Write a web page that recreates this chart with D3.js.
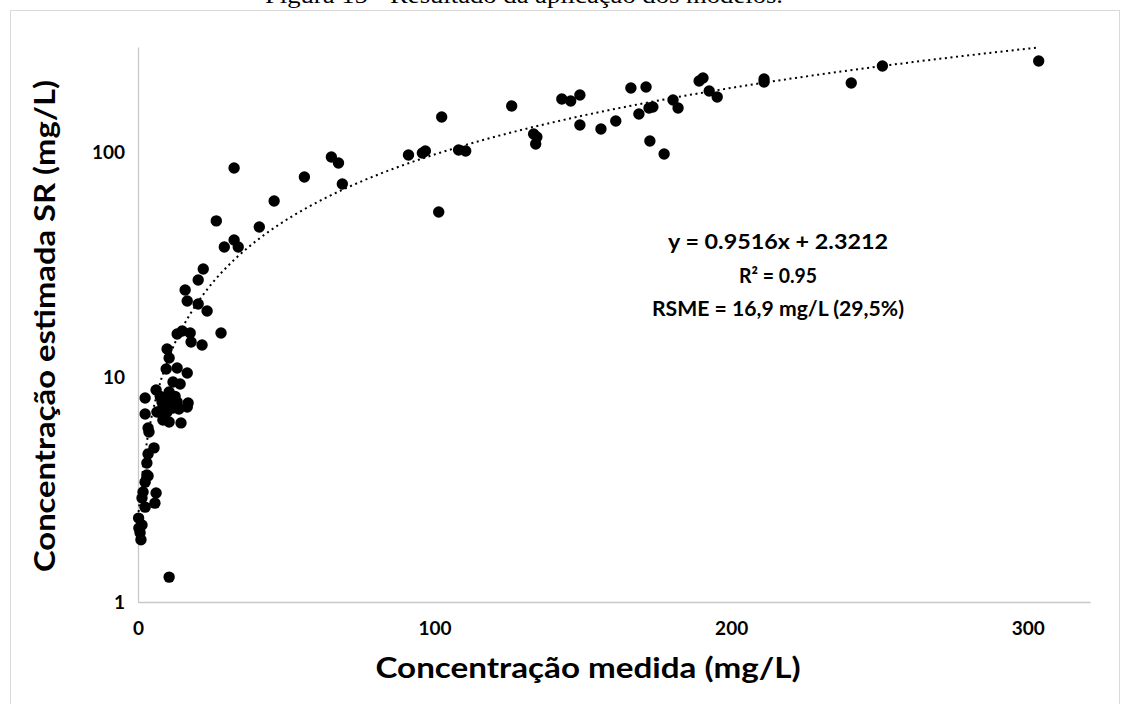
<!DOCTYPE html>
<html>
<head>
<meta charset="utf-8">
<script src="https://cdn.jsdelivr.net/npm/d3@7"></script>
<style>
  body { margin: 0; background: #fff; }
  svg { display: block; }
</style>
</head>
<body>
<div id="container"></div>
<script>
var xMeasured = [0.2, 1.35, 0.3, 0.7, 1.0, 10.5,
  2.4, 5.7, 6.1, 1.35, 1.7, 2.4, 3.0, 3.4, 3.0, 3.4, 5.4, 3.7, 3.4,
  8.4, 10.5, 14.5, 6.4, 2.4, 9.8, 8.4, 11.8, 16.6, 16.9, 8.1, 10.8, 13.2,
  10.5, 2.4, 6.1, 11.8, 14.2, 9.5, 13.2, 16.6, 10.5, 9.8,
  13.2, 14.9, 17.6, 17.9, 28.0, 21.6, 15.9, 16.6, 20.3, 23.3, 20.3, 22.0,
  26.4, 29.1, 32.4, 33.8, 32.4, 40.9, 45.9, 56.1, 65.2, 67.6, 68.9,
  91.2, 95.9, 96.9, 101.4, 102.4, 108.1, 110.5, 126.0, 133.4, 134.5, 134.1,
  142.9, 145.9, 149.0, 149.0, 156.1, 161.1, 166.2, 171.3, 168.9, 172.3, 173.6,
  172.6, 177.4, 180.4, 182.1, 189.2, 190.5, 192.6, 195.3, 211.1, 211.1,
  240.5, 251.0, 303.7,
  7.5, 12.5, 9.0, 13.8];

var yEstimated = [2.36, 2.20, 2.13, 2.03, 1.89, 1.29,
  2.64, 2.75, 3.05, 2.90, 3.08, 3.41, 3.67, 3.63, 4.15, 4.55, 4.84, 5.69, 5.93,
  6.44, 6.31, 6.25, 6.99, 6.85, 6.99, 7.36, 7.28, 7.36, 7.66, 7.74, 7.90, 7.74,
  8.58, 8.07, 8.76, 9.50, 9.31, 10.85, 10.96, 10.42, 12.15, 13.32,
  15.53, 16.01, 15.69, 14.30, 15.69, 13.88, 24.36, 21.77, 21.11, 19.65, 26.98, 30.2,
  49.4, 37.8, 40.6, 37.8, 84.9, 46.4, 60.6, 77.4, 95.0, 89.4, 72.1,
  97.0, 99.0, 101.0, 54.1, 143.1, 102.1, 101.0, 160.1, 120.2, 116.6, 108.5,
  172.0, 168.5, 179.2, 131.8, 126.6, 137.3, 192.5, 194.5, 147.5, 156.9, 158.5,
  111.9, 98.0, 170.2, 156.9, 206.9, 213.3, 186.7, 175.6, 211.1, 204.7,
  202.6, 241.1, 253.8,
  8.2, 8.2, 7.0, 7.2];

var xTicks = [0, 100, 200, 300];
var yTicks = [1, 10, 100];

// linear trend shown in the chart
var slope = 0.9516,
    intercept = 2.3212;

var annotation = ["y = 0.9516x + 2.3212", "R\u00b2 = 0.95", "RSME = 16,9 mg/L (29,5%)"];
var annotationWidth = [220, 78, 252];

var w = 1121,
    h = 704;

var svg = d3.select("div#container")
  .append("svg")
  .attr("width", w)
  .attr("height", h);

var font = "Lato, 'Open Sans', sans-serif";

// title (cut off at the top of the page, as in the original)
svg.append("text")
  .attr("x", 524)
  .attr("y", 3)
  .attr("text-anchor", "middle")
  .attr("font-family", "'Liberation Serif', 'Times New Roman', serif")
  .attr("font-size", 24)
  .attr("textLength", 518)
  .attr("lengthAdjust", "spacingAndGlyphs")
  .text("Figura 15 - Resultado da aplicação dos modelos.");

// chart frame
svg.append("rect")
  .attr("x", 10.5)
  .attr("y", 10.5)
  .attr("width", 1109)
  .attr("height", 720)
  .attr("fill", "none")
  .attr("stroke", "#d9d9d9")
  .attr("stroke-width", 1);

var x = d3.scaleLinear()
    .domain([0, 321])
    .range([138, 1090]);

var y = d3.scaleLog()
    .domain([1, 292.8])
    .range([602, 47]);

// axes
var xAxis = svg.append("g")
  .attr("transform", "translate(0,602)")
  .call(d3.axisBottom(x).tickValues(xTicks).tickSize(0).tickPadding(20).tickFormat(d3.format("d")));

var yAxis = svg.append("g")
  .attr("transform", "translate(138,0)")
  .call(d3.axisLeft(y).tickValues(yTicks).tickSize(0).tickPadding(13).tickFormat(d3.format("d")));

[xAxis, yAxis].forEach(function(a) {
  a.select(".domain").attr("stroke", "#c8c8c8").attr("stroke-width", 1.3);
  a.selectAll("text")
    .attr("font-family", font)
    .attr("font-weight", "bold")
    .attr("font-size", 19)
    .attr("fill", "#000");
});

// trendline
var trendData = d3.range(0, 201).map(function(i) {
  var xv = d3.min(xMeasured) + (d3.max(xMeasured) - d3.min(xMeasured)) * i / 200;
  return [xv, slope * xv + intercept];
});

svg.append("path")
  .datum(trendData)
  .attr("fill", "none")
  .attr("stroke", "#000")
  .attr("stroke-width", 2)
  .attr("stroke-dasharray", "2,3.6")
  .attr("d", d3.line()
    .x(function(d) { return x(d[0]); })
    .y(function(d) { return y(d[1]); }));

// points
var points = xMeasured.map(function(v, i) { return { x: v, y: yEstimated[i] }; });

svg.append("g")
  .selectAll("circle")
  .data(points)
  .enter().append("circle")
    .attr("cx", function(d) { return x(d.x); })
    .attr("cy", function(d) { return y(d.y); })
    .attr("r", 5.7)
    .attr("fill", "#000");

// equation box
svg.append("g")
  .selectAll("text")
  .data(annotation)
  .enter().append("text")
    .attr("x", 778)
    .attr("y", function(d, i) { return 249 + i * 33.5; })
    .attr("text-anchor", "middle")
    .attr("font-family", font)
    .attr("font-weight", "bold")
    .attr("font-size", 21)
    .attr("textLength", function(d, i) { return annotationWidth[i]; })
    .attr("lengthAdjust", "spacingAndGlyphs")
    .text(function(d) { return d; });

// axis titles
svg.append("text")
  .attr("x", 588)
  .attr("y", 678)
  .attr("text-anchor", "middle")
  .attr("font-family", font)
  .attr("font-weight", "bold")
  .attr("font-size", 29)
  .attr("textLength", 425)
  .attr("lengthAdjust", "spacingAndGlyphs")
  .text("Concentração medida (mg/L)");

svg.append("text")
  .attr("transform", "translate(55,326) rotate(-90)")
  .attr("text-anchor", "middle")
  .attr("font-family", font)
  .attr("font-weight", "bold")
  .attr("font-size", 29)
  .attr("textLength", 492)
  .attr("lengthAdjust", "spacingAndGlyphs")
  .text("Concentração estimada SR (mg/L)");
</script>
</body>
</html>
